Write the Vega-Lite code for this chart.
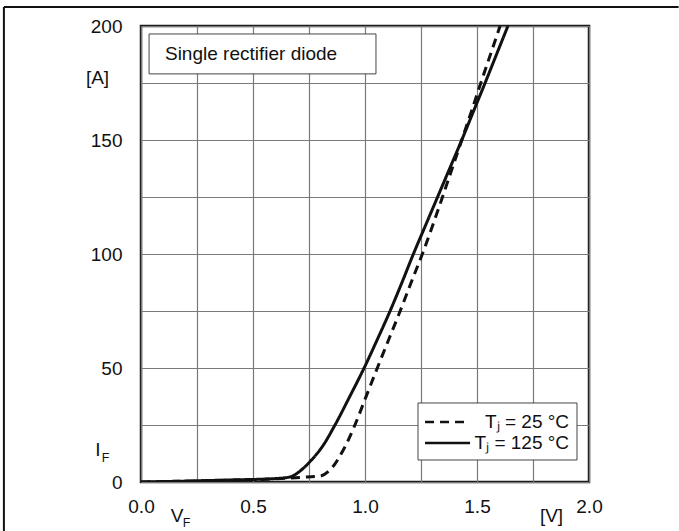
{
  "$schema": "https://vega.github.io/schema/vega-lite/v6.json",
  "width": 448,
  "height": 456,
  "autosize": {"type": "none"},
  "padding": {"left": 141, "top": 26, "right": 90, "bottom": 49},
  "background": "white",
  "config": {
    "font": "Liberation Sans",
    "view": {"stroke": "#1a1a1a", "strokeWidth": 2.5},
    "axis": {
      "domain": false,
      "ticks": false,
      "tickSize": 0,
      "grid": true,
      "gridColor": "#7a7a7a",
      "gridWidth": 1.2,
      "labelFont": "Liberation Sans",
      "labelFontSize": 19,
      "labelColor": "#111",
      "titleFont": "Liberation Sans",
      "titleFontSize": 19,
      "titleFontWeight": "normal",
      "titleColor": "#111"
    }
  },
  "datasets": {
    "curves": [
      {"V": 0.0, "I": 0.0, "series": "Tⱼ = 125 °C"},
      {"V": 0.2, "I": 0.4, "series": "Tⱼ = 125 °C"},
      {"V": 0.4, "I": 0.9, "series": "Tⱼ = 125 °C"},
      {"V": 0.6, "I": 1.5, "series": "Tⱼ = 125 °C"},
      {"V": 0.665, "I": 2.2, "series": "Tⱼ = 125 °C"},
      {"V": 0.71, "I": 4.8, "series": "Tⱼ = 125 °C"},
      {"V": 0.754, "I": 8.9, "series": "Tⱼ = 125 °C"},
      {"V": 0.814, "I": 16.2, "series": "Tⱼ = 125 °C"},
      {"V": 0.866, "I": 25, "series": "Tⱼ = 125 °C"},
      {"V": 0.932, "I": 37.5, "series": "Tⱼ = 125 °C"},
      {"V": 0.996, "I": 50, "series": "Tⱼ = 125 °C"},
      {"V": 1.055, "I": 62.5, "series": "Tⱼ = 125 °C"},
      {"V": 1.112, "I": 75, "series": "Tⱼ = 125 °C"},
      {"V": 1.165, "I": 87.5, "series": "Tⱼ = 125 °C"},
      {"V": 1.216, "I": 100, "series": "Tⱼ = 125 °C"},
      {"V": 1.27, "I": 112.5, "series": "Tⱼ = 125 °C"},
      {"V": 1.324, "I": 125, "series": "Tⱼ = 125 °C"},
      {"V": 1.378, "I": 137.5, "series": "Tⱼ = 125 °C"},
      {"V": 1.432, "I": 150, "series": "Tⱼ = 125 °C"},
      {"V": 1.484, "I": 162.5, "series": "Tⱼ = 125 °C"},
      {"V": 1.536, "I": 175, "series": "Tⱼ = 125 °C"},
      {"V": 1.587, "I": 187.5, "series": "Tⱼ = 125 °C"},
      {"V": 1.638, "I": 200, "series": "Tⱼ = 125 °C"},
      {"V": 0.0, "I": 0.0, "series": "Tⱼ = 25 °C"},
      {"V": 0.3, "I": 0.6, "series": "Tⱼ = 25 °C"},
      {"V": 0.6, "I": 1.4, "series": "Tⱼ = 25 °C"},
      {"V": 0.74, "I": 2.2, "series": "Tⱼ = 25 °C"},
      {"V": 0.8, "I": 2.6, "series": "Tⱼ = 25 °C"},
      {"V": 0.844, "I": 5.3, "series": "Tⱼ = 25 °C"},
      {"V": 0.903, "I": 14, "series": "Tⱼ = 25 °C"},
      {"V": 0.955, "I": 25, "series": "Tⱼ = 25 °C"},
      {"V": 1.003, "I": 37, "series": "Tⱼ = 25 °C"},
      {"V": 1.055, "I": 50, "series": "Tⱼ = 25 °C"},
      {"V": 1.106, "I": 62.5, "series": "Tⱼ = 25 °C"},
      {"V": 1.157, "I": 75, "series": "Tⱼ = 25 °C"},
      {"V": 1.206, "I": 87.5, "series": "Tⱼ = 25 °C"},
      {"V": 1.256, "I": 100, "series": "Tⱼ = 25 °C"},
      {"V": 1.302, "I": 112.5, "series": "Tⱼ = 25 °C"},
      {"V": 1.346, "I": 125, "series": "Tⱼ = 25 °C"},
      {"V": 1.389, "I": 137.5, "series": "Tⱼ = 25 °C"},
      {"V": 1.432, "I": 150, "series": "Tⱼ = 25 °C"},
      {"V": 1.475, "I": 162.5, "series": "Tⱼ = 25 °C"},
      {"V": 1.517, "I": 175, "series": "Tⱼ = 25 °C"},
      {"V": 1.56, "I": 187.5, "series": "Tⱼ = 25 °C"},
      {"V": 1.603, "I": 200, "series": "Tⱼ = 25 °C"}
    ]
  },
  "layer": [
    {
      "data": {"name": "curves"},
      "mark": {"type": "line", "color": "#111", "strokeWidth": 3, "interpolate": "monotone", "clip": true},
      "encoding": {
        "x": {
          "field": "V",
          "type": "quantitative",
          "scale": {"domain": [0, 2], "nice": false},
          "axis": {
            "values": [0, 0.25, 0.5, 0.75, 1, 1.25, 1.5, 1.75, 2],
            "format": ".1f",
            "labelExpr": "(datum.value * 4) % 2 == 0 ? datum.label : ''",
            "labelPadding": 15,
            "labelFlush": false,
            "title": "[V]",
            "titleX": 410,
            "titleY": 33,
            "titleAlign": "center",
            "titleBaseline": "middle"
          }
        },
        "y": {
          "field": "I",
          "type": "quantitative",
          "scale": {"domain": [0, 200], "nice": false},
          "axis": {
            "values": [0, 25, 50, 75, 100, 125, 150, 175, 200],
            "labelExpr": "datum.value % 50 == 0 ? datum.label : ''",
            "labelPadding": 19,
            "labelFlush": false,
            "title": "[A]",
            "titleAngle": 0,
            "titleX": -44,
            "titleY": 51,
            "titleAlign": "center",
            "titleBaseline": "middle"
          }
        },
        "strokeDash": {
          "field": "series",
          "type": "nominal",
          "scale": {"domain": ["Tⱼ = 25 °C", "Tⱼ = 125 °C"], "range": [[9, 6], [1, 0]]},
          "legend": null
        }
      }
    },
    {
      "data": {"values": [{}]},
      "mark": {"type": "rect", "fill": "white", "stroke": "#444", "strokeWidth": 1},
      "encoding": {
        "x": {"datum": 0.036, "type": "quantitative"},
        "x2": {"datum": 1.049},
        "y": {"datum": 196.5, "type": "quantitative"},
        "y2": {"datum": 179}
      }
    },
    {
      "data": {"values": [{}]},
      "mark": {"type": "text", "text": "Single rectifier diode", "fontSize": 19, "align": "left", "baseline": "middle", "color": "#111"},
      "encoding": {
        "x": {"datum": 0.107, "type": "quantitative"},
        "y": {"datum": 187.7, "type": "quantitative"}
      }
    },
    {
      "data": {"values": [{}]},
      "mark": {"type": "rect", "fill": "white", "stroke": "#444", "strokeWidth": 1},
      "encoding": {
        "x": {"datum": 1.2366, "type": "quantitative"},
        "x2": {"datum": 1.9464},
        "y": {"datum": 34.65, "type": "quantitative"},
        "y2": {"datum": 9.65}
      }
    },
    {
      "data": {"values": [{"series": "Tⱼ = 25 °C", "x0": 1.268, "x1": 1.46, "y": 26.3}, {"series": "Tⱼ = 125 °C", "x0": 1.268, "x1": 1.469, "y": 17.1}]},
      "mark": {"type": "rule", "color": "#111", "strokeWidth": 2.5},
      "encoding": {
        "x": {"field": "x0", "type": "quantitative"},
        "x2": {"field": "x1"},
        "y": {"field": "y", "type": "quantitative"},
        "strokeDash": {"field": "series", "type": "nominal", "legend": null}
      }
    },
    {
      "data": {"values": [{"series": "Tⱼ = 25 °C", "x": 1.911, "y": 26.3}, {"series": "Tⱼ = 125 °C", "x": 1.911, "y": 17.1}]},
      "mark": {"type": "text", "fontSize": 19, "align": "right", "baseline": "middle", "color": "#111"},
      "encoding": {
        "x": {"field": "x", "type": "quantitative"},
        "y": {"field": "y", "type": "quantitative"},
        "text": {"field": "series"}
      }
    },
    {
      "data": {"values": [{}]},
      "mark": {"type": "text", "text": "I", "fontSize": 19, "align": "center", "baseline": "middle", "color": "#111"},
      "encoding": {
        "x": {"datum": -0.192, "type": "quantitative"},
        "y": {"datum": 14.0, "type": "quantitative"}
      }
    },
    {
      "data": {"values": [{}]},
      "mark": {"type": "text", "text": "F", "fontSize": 12.5, "align": "center", "baseline": "middle", "color": "#111"},
      "encoding": {
        "x": {"datum": -0.158, "type": "quantitative"},
        "y": {"datum": 10.5, "type": "quantitative"}
      }
    },
    {
      "data": {"values": [{}]},
      "mark": {"type": "text", "text": "V", "fontSize": 19, "align": "center", "baseline": "middle", "color": "#111"},
      "encoding": {
        "x": {"datum": 0.161, "type": "quantitative"},
        "y": {"datum": -15.1, "type": "quantitative"}
      }
    },
    {
      "data": {"values": [{}]},
      "mark": {"type": "text", "text": "F", "fontSize": 12.5, "align": "center", "baseline": "middle", "color": "#111"},
      "encoding": {
        "x": {"datum": 0.203, "type": "quantitative"},
        "y": {"datum": -17.8, "type": "quantitative"}
      }
    },
    {
      "data": {"values": [{}]},
      "mark": {"type": "rule", "color": "#111", "strokeWidth": 2},
      "encoding": {
        "x": {"datum": -0.612, "type": "quantitative"},
        "x2": {"datum": 2.4},
        "y": {"datum": 208.33, "type": "quantitative"}
      }
    },
    {
      "data": {"values": [{}]},
      "mark": {"type": "rule", "color": "#111", "strokeWidth": 2},
      "encoding": {
        "x": {"datum": -0.612, "type": "quantitative"},
        "y": {"datum": 208.33, "type": "quantitative"},
        "y2": {"datum": -21.5}
      }
    }
  ]
}
